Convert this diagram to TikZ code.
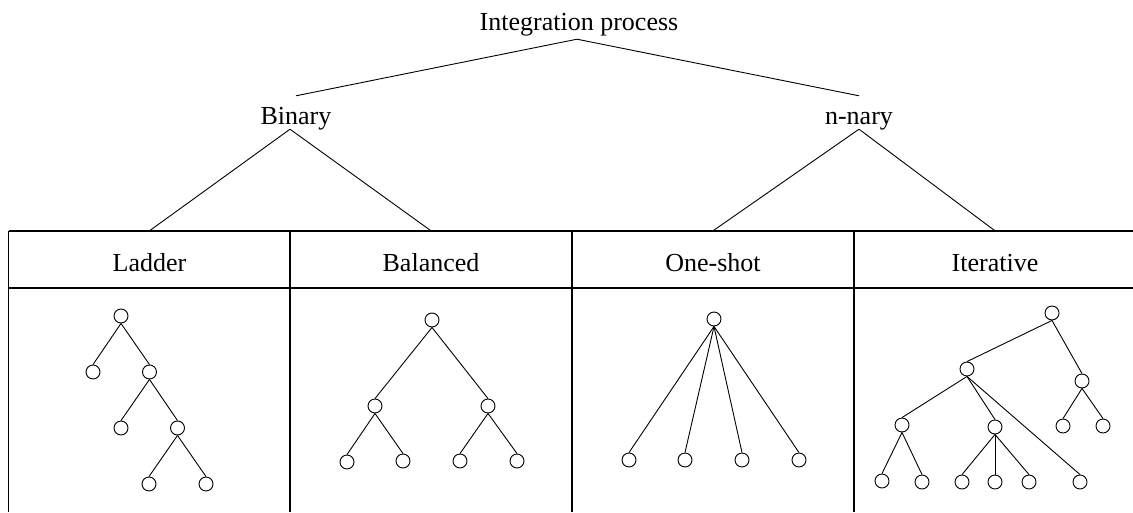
\documentclass[tikz,border=0pt]{standalone}
\usepackage{fontspec}
\setmainfont{Liberation Serif}
\begin{document}
\begin{tikzpicture}[x=1pt,y=-1pt,
  lbl/.style={inner sep=0pt,font=\fontsize{26}{30}\selectfont},
  cell/.style={inner sep=0pt,minimum width=281pt,minimum height=57pt,text height=24pt,text depth=0pt,font=\fontsize{26}{30}\selectfont},
  tnode/.style={circle,draw,line width=0.9pt,minimum size=14pt,inner sep=0pt},
  tedge/.style={line width=0.9pt},
  grid/.style={line width=1.3pt},
  conn/.style={line width=0.9pt}]
\useasboundingbox (0,0) rectangle (1133,512);
% labels
\node[lbl,text height=20pt,text depth=9pt] (title) at (579,24.5) {Integration process};
\node[lbl,text height=28pt,text depth=5pt] (bin) at (296,112.5) {Binary};
\node[lbl,text height=28pt,text depth=5pt] (nary) at (859,112.5) {n-nary};
% header cells
\node[cell] (ladder) at (149.5,259.5) {Ladder};
\node[cell] (balanced) at (431,259.5) {Balanced};
\node[cell] (oneshot) at (713,259.5) {One-shot};
\node[cell] (iter) at (995,259.5) {Iterative};
% grid
\draw[grid] (8.5,231) -- (1133,231);
\draw[grid] (8.5,288) -- (1133,288);
\draw[grid] (8.5,231) -- (8.5,512);
\draw[grid] (290,231) -- (290,512);
\draw[grid] (572,231) -- (572,512);
\draw[grid] (854,231) -- (854,512);
% connectors
\draw[conn] ([xshift=-2pt]title.south) -- (bin.north);
\draw[conn] ([xshift=-2pt]title.south) -- (nary.north);
\draw[conn] ([xshift=-6pt]bin.south) -- (ladder.north);
\draw[conn] ([xshift=-6pt]bin.south) -- (balanced.north);
\draw[conn] (nary.south) -- (oneshot.north);
\draw[conn] (nary.south) -- (iter.north);
% Ladder tree
\node[tnode] (lr) at (121,316) {};
\node[tnode] (la1) at (93,372) {};
\node[tnode] (la2) at (149.5,372) {};
\node[tnode] (lb1) at (121,428) {};
\node[tnode] (lb2) at (177.5,428) {};
\node[tnode] (lc1) at (149,484) {};
\node[tnode] (lc2) at (206,484) {};
\draw[tedge] (lr.south) -- (la1.north);
\draw[tedge] (lr.south) -- (la2.north);
\draw[tedge] (la2.south) -- (lb1.north);
\draw[tedge] (la2.south) -- (lb2.north);
\draw[tedge] (lb2.south) -- (lc1.north);
\draw[tedge] (lb2.south) -- (lc2.north);
% Balanced tree
\node[tnode] (br) at (432,320) {};
\node[tnode] (bl) at (375,406) {};
\node[tnode] (bR) at (488,406) {};
\node[tnode] (bl1) at (347,462) {};
\node[tnode] (bl2) at (403,461) {};
\node[tnode] (bR1) at (460,461) {};
\node[tnode] (bR2) at (517,461) {};
\draw[tedge] (br.south) -- (bl.north);
\draw[tedge] (br.south) -- (bR.north);
\draw[tedge] (bl.south) -- (bl1.north);
\draw[tedge] (bl.south) -- (bl2.north);
\draw[tedge] (bR.south) -- (bR1.north);
\draw[tedge] (bR.south) -- (bR2.north);
% One-shot tree
\node[tnode] (or) at (714,319) {};
\node[tnode] (o1) at (629,460) {};
\node[tnode] (o2) at (685,460) {};
\node[tnode] (o3) at (742,460) {};
\node[tnode] (o4) at (799,460) {};
\foreach \c in {o1,o2,o3,o4} \draw[tedge] (or.south) -- (\c.north);
% Iterative tree
\node[tnode] (ir) at (1052,313) {};
\node[tnode] (iA) at (967,369) {};
\node[tnode] (iB) at (1082,381) {};
\node[tnode] (iB1) at (1063,426) {};
\node[tnode] (iB2) at (1103,426) {};
\node[tnode] (iC) at (902,425) {};
\node[tnode] (iD) at (995,427) {};
\node[tnode] (iE) at (1080,482) {};
\node[tnode] (iC1) at (882,481) {};
\node[tnode] (iC2) at (922,482) {};
\node[tnode] (iD1) at (962,482) {};
\node[tnode] (iD2) at (995,482) {};
\node[tnode] (iD3) at (1029,482) {};
\draw[tedge] (ir.south) -- (iA.north);
\draw[tedge] (ir.south) -- (iB.north);
\draw[tedge] (iB.south) -- (iB1.north);
\draw[tedge] (iB.south) -- (iB2.north);
\draw[tedge] (iA.south) -- (iC.north);
\draw[tedge] (iA.south) -- (iD.north);
\draw[tedge] (iA.south) -- (iE.north);
\draw[tedge] (iC.south) -- (iC1.north);
\draw[tedge] (iC.south) -- (iC2.north);
\draw[tedge] (iD.south) -- (iD1.north);
\draw[tedge] (iD.south) -- (iD2.north);
\draw[tedge] (iD.south) -- (iD3.north);
\end{tikzpicture}
\end{document}
